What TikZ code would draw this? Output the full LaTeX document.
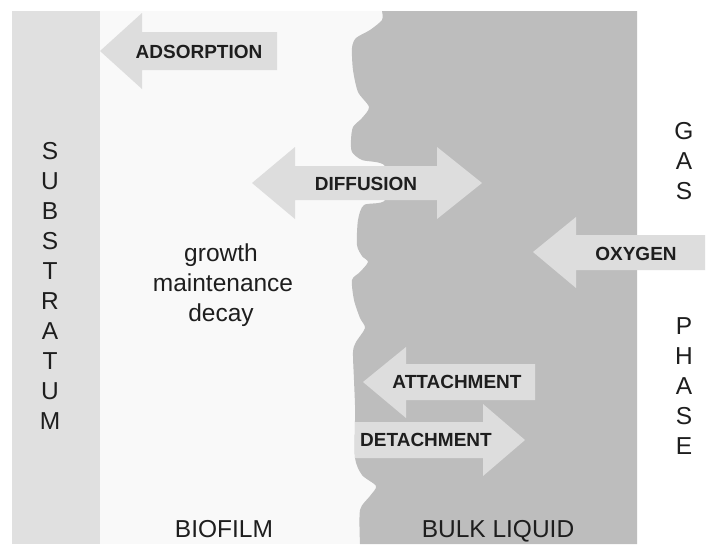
\documentclass[tikz,border=0pt]{standalone}
\usepackage{fontspec}
\setmainfont{Liberation Sans}
\definecolor{subgray}{RGB}{224,224,224}
\definecolor{bulkgray}{RGB}{189,189,189}
\definecolor{arrowgray}{RGB}{221,221,221}
\definecolor{filmbg}{RGB}{249,249,249}
\definecolor{ink}{RGB}{30,30,30}
\tikzset{
  blockarrow/.style={fill=arrowgray},
  arrowlabel/.style={font=\fontsize{19}{22}\selectfont\bfseries, text=ink, inner sep=0pt},
  plainlabel/.style={font=\fontsize{24.5}{30}\selectfont, text=ink, inner sep=0pt, anchor=base},
  stacklabel/.style={font=\fontsize{24.5}{30}\selectfont, text=ink, inner sep=0pt, align=center},
}
\begin{document}
\begin{tikzpicture}[x=1pt,y=-1pt]
\useasboundingbox (0,0) rectangle (722,544);
\fill[white] (0,0) rectangle (722,544);
% regions
\fill[subgray] (12,11) rectangle (100,544);
\fill[filmbg] (100,11) rectangle (637,544);
\fill[bulkgray] (637,11) -- (382,11) -- plot[smooth,tension=0.45] coordinates {
  (382,11) (382,20) (370,30) (356,38) (352,48) (353,70) (358,92) (369,107)
  (362,118) (353,127) (351,140) (352,152) (362,160) (385,166) (385,200)
  (364,205) (358,220) (357,245) (362,256) (368,262) (360,272) (352,280)
  (354,300) (360,318) (365,328) (356,342) (353,352) (354,380) (355,405)
  (355,420) (355,458) (362,475) (376,486) (370,496) (360,510) (360,544)}
  -- (637,544) -- cycle;
% block arrows
\fill[blockarrow] (100,51) -- (142,13) -- (142,32) -- (277,32) -- (277,70) -- (142,70) -- (142,89) -- cycle;
\fill[blockarrow] (252,183) -- (295,147) -- (295,166) -- (437,166) -- (437,147) -- (482,183)
  -- (437,219) -- (437,200) -- (295,200) -- (295,219) -- cycle;
\fill[blockarrow] (533,252) -- (576,217) -- (576,235) -- (705,235) -- (705,270) -- (576,270) -- (576,288) -- cycle;
\fill[blockarrow] (363,382) -- (406,347) -- (406,364) -- (535,364) -- (535,400) -- (406,400) -- (406,418) -- cycle;
\fill[blockarrow] (355,422) -- (483,422) -- (483,404) -- (525,440) -- (483,476) -- (483,458) -- (355,458) -- cycle;
% arrow labels
\node[arrowlabel] (adsorption) at (199,52) {ADSORPTION};
\node[arrowlabel] (diffusion) at (366,184) {DIFFUSION};
\node[arrowlabel] (oxygen) at (636,254) {OXYGEN};
\node[arrowlabel] (attachment) at (457,382) {ATTACHMENT};
\node[arrowlabel] (detachment) at (426,440) {DETACHMENT};
% processes
\node[plainlabel] (growth) at (221,261) {growth};
\node[plainlabel] (maintenance) at (223,291) {maintenance};
\node[plainlabel] (decay) at (221,321) {decay};
% region labels
\node[plainlabel] (biofilm) at (224,537) {BIOFILM};
\node[plainlabel] (bulk) at (498,537) {BULK LIQUID};
\node[stacklabel] (substratum) at (50,286) {S\\U\\B\\S\\T\\R\\A\\T\\U\\M};
\node[stacklabel] (gas) at (684,161) {G\\A\\S};
\node[stacklabel] (phase) at (684,386) {P\\H\\A\\S\\E};
\end{tikzpicture}
\end{document}
